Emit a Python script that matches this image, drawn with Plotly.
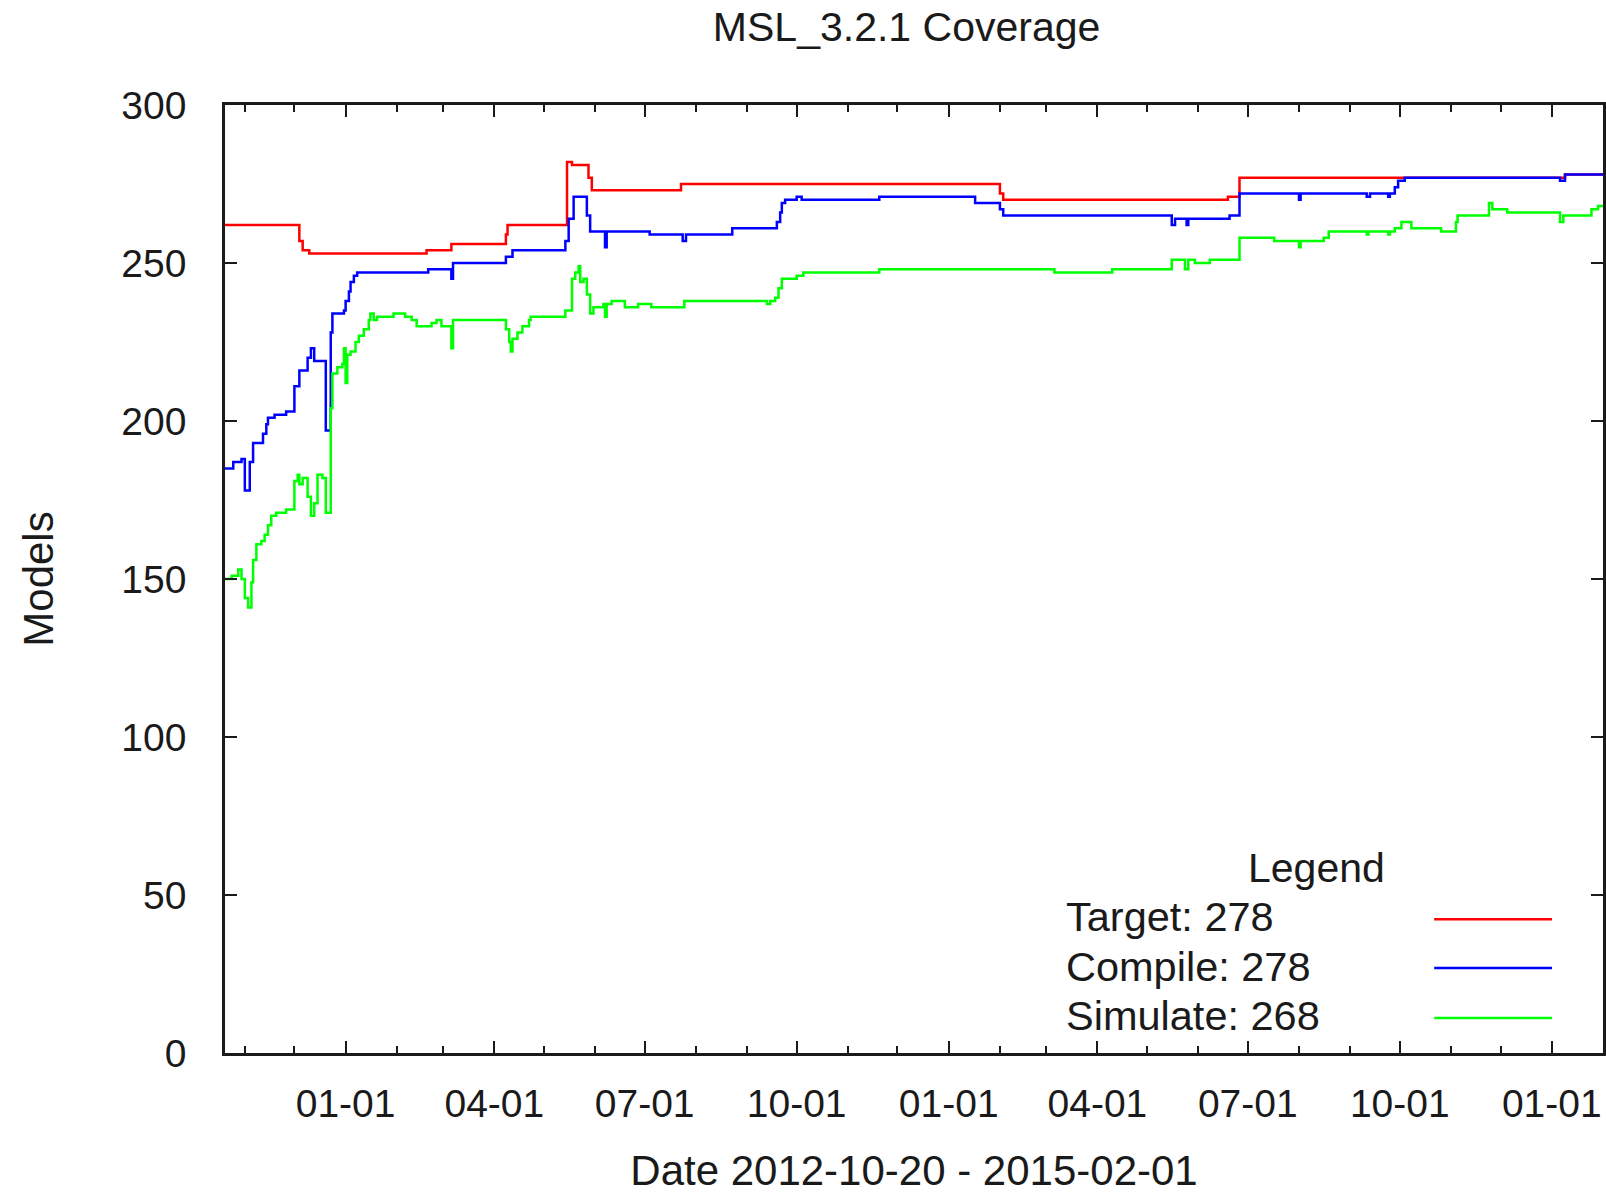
import plotly.graph_objects as go

# ---------------- data ----------------
target_dates = ["2012-10-20", "2012-12-04", "2012-12-06", "2012-12-10", "2013-02-19", "2013-03-06",
                "2013-04-08", "2013-04-09", "2013-05-15", "2013-05-18", "2013-05-28", "2013-05-30",
                "2013-07-23", "2014-02-01", "2014-02-03", "2014-06-19", "2014-06-26", "2015-01-09",
                "2015-02-01"]
target_vals = [262, 257, 254, 253, 254, 256,
               259, 262, 282, 281, 277, 273,
               275, 272, 270, 271, 277, 278,
               278]

compile_dates = ["2012-10-20", "2012-10-25", "2012-10-30", "2012-11-01", "2012-11-04", "2012-11-06",
                 "2012-11-12", "2012-11-14", "2012-11-15", "2012-11-19", "2012-11-26", "2012-12-01",
                 "2012-12-04", "2012-12-09", "2012-12-11", "2012-12-13", "2012-12-20", "2012-12-23",
                 "2012-12-24", "2012-12-31", "2013-01-01", "2013-01-03", "2013-01-04", "2013-01-06",
                 "2013-01-08", "2013-02-20", "2013-03-06", "2013-03-07", "2013-04-08", "2013-04-12",
                 "2013-05-14", "2013-05-16", "2013-05-19", "2013-05-27", "2013-05-29", "2013-06-07",
                 "2013-06-08", "2013-07-04", "2013-07-24", "2013-07-26", "2013-08-23", "2013-09-19",
                 "2013-09-21", "2013-09-22", "2013-09-24", "2013-10-01", "2013-10-04", "2013-11-20",
                 "2014-01-17", "2014-02-01", "2014-02-03", "2014-05-16", "2014-05-18", "2014-05-25",
                 "2014-05-26", "2014-06-20", "2014-06-26", "2014-08-01", "2014-08-02", "2014-09-11",
                 "2014-09-13", "2014-09-24", "2014-09-25", "2014-09-28", "2014-09-30", "2014-10-04",
                 "2015-01-06", "2015-01-09", "2015-02-01"]
compile_vals = [185, 187, 188, 178, 187, 193,
                196, 199, 201, 202, 203, 211,
                216, 220, 223, 219, 197, 228,
                234, 235, 238, 241, 244, 246,
                247, 248, 245, 250, 252, 254,
                257, 264, 271, 265, 260, 255,
                260, 259, 257, 259, 261, 263,
                266, 269, 270, 271, 270, 271,
                269, 267, 265, 262, 264, 262,
                264, 265, 272, 270, 272, 271,
                272, 271, 272, 274, 276, 277,
                276, 278, 278]

simulate_dates = ["2012-10-20", "2012-10-24", "2012-10-28", "2012-10-30", "2012-11-01", "2012-11-03",
                  "2012-11-05", "2012-11-06", "2012-11-08", "2012-11-11", "2012-11-13", "2012-11-15",
                  "2012-11-17", "2012-11-20", "2012-11-26", "2012-12-01", "2012-12-03", "2012-12-04",
                  "2012-12-06", "2012-12-09", "2012-12-11", "2012-12-13", "2012-12-15", "2012-12-18",
                  "2012-12-20", "2012-12-23", "2012-12-24", "2012-12-27", "2012-12-30", "2012-12-31",
                  "2013-01-01", "2013-01-02", "2013-01-04", "2013-01-07", "2013-01-09", "2013-01-12",
                  "2013-01-15", "2013-01-16", "2013-01-18", "2013-01-20", "2013-01-30", "2013-02-06",
                  "2013-02-10", "2013-02-13", "2013-02-22", "2013-02-25", "2013-02-28", "2013-03-06",
                  "2013-03-07", "2013-04-08", "2013-04-10", "2013-04-11", "2013-04-12", "2013-04-15",
                  "2013-04-18", "2013-04-22", "2013-04-23", "2013-05-14", "2013-05-18", "2013-05-20",
                  "2013-05-22", "2013-05-23", "2013-05-25", "2013-05-27", "2013-05-29", "2013-05-31",
                  "2013-06-06", "2013-06-07", "2013-06-08", "2013-06-11", "2013-06-19", "2013-06-27",
                  "2013-07-05", "2013-07-25", "2013-09-13", "2013-09-15", "2013-09-18", "2013-09-20",
                  "2013-09-22", "2013-10-01", "2013-10-05", "2013-11-20", "2014-03-06", "2014-04-10",
                  "2014-05-16", "2014-05-24", "2014-05-26", "2014-05-30", "2014-06-08", "2014-06-26",
                  "2014-07-17", "2014-08-01", "2014-08-02", "2014-08-16", "2014-08-19", "2014-09-11",
                  "2014-09-12", "2014-09-24", "2014-09-25", "2014-09-28", "2014-10-02", "2014-10-08",
                  "2014-10-26", "2014-11-04", "2014-11-05", "2014-11-24", "2014-11-26", "2014-12-05",
                  "2015-01-06", "2015-01-08", "2015-01-25", "2015-01-29", "2015-02-01"]
simulate_vals = [150, 151, 153, 150, 144, 141,
                 149, 156, 161, 162, 164, 167,
                 170, 171, 172, 181, 183, 180,
                 182, 176, 170, 174, 183, 182,
                 171, 204, 215, 217, 218, 223,
                 212, 221, 222, 225, 227, 229,
                 232, 234, 232, 233, 234, 233,
                 232, 230, 231, 232, 230, 223,
                 232, 229, 225, 222, 226, 228,
                 230, 232, 233, 235, 245, 247,
                 249, 244, 245, 240, 234, 236,
                 237, 233, 237, 238, 236, 237,
                 236, 238, 237, 238, 239, 242,
                 245, 246, 247, 248, 247, 248,
                 251, 248, 251, 250, 251, 258,
                 257, 255, 257, 258, 260, 259,
                 260, 259, 260, 261, 263, 261,
                 260, 263, 265, 269, 267, 266,
                 263, 265, 267, 268, 268]

series_names = ["Target", "Compile", "Simulate"]
series_colors = ["#ff0000", "#0000ff", "#00ff00"]

x_start, x_end = "2012-10-20", "2015-02-01"
y_ticks = [0, 50, 100, 150, 200, 250, 300]

chart_title = "MSL_3.2.1 Coverage"
x_title = f"Date {x_start} - {x_end}"
y_title = "Models"

FONT = "Liberation Sans, Arial, sans-serif"
INK = "#1a1a1a"

# ---------------- figure ----------------
fig = go.Figure()
all_series = [(target_dates, target_vals), (compile_dates, compile_vals), (simulate_dates, simulate_vals)]
for (dates, vals), name, col in zip(all_series, series_names, series_colors):
    fig.add_trace(go.Scatter(
        x=dates, y=vals, mode="lines", name=name,
        line=dict(color=col, width=2.5, shape="hv"),
        showlegend=False,
    ))

axis_common = dict(
    showline=True, linecolor=INK, linewidth=2.5, mirror="allticks",
    ticks="inside", ticklen=12, tickwidth=2, tickcolor=INK,
    showgrid=False, zeroline=False,
)

fig.update_xaxes(
    type="date", range=[x_start, x_end],
    tick0="2013-01-01", dtick="M3", tickformat="%m-%d",
    minor=dict(dtick="M1", tick0="2012-11-01", ticks="inside", ticklen=7,
               tickwidth=2, tickcolor=INK, showgrid=False),
    tickfont=dict(family=FONT, size=39, color=INK),
    ticklabelstandoff=14,
    title=dict(text=x_title, font=dict(family=FONT, size=42, color=INK), standoff=44),
    automargin=False,
    **axis_common,
)
fig.update_yaxes(
    range=[0, 300], tickvals=y_ticks,
    tickfont=dict(family=FONT, size=39, color=INK),
    ticklabelstandoff=28,
    title=dict(text=y_title, font=dict(family=FONT, size=42, color=INK), standoff=55),
    automargin=False,
    **axis_common,
)

# ---------------- gnuplot-style legend (text left, sample right) ----------------
legend_rows_y = [0.1444, 0.0917, 0.0400]
legend_line_y = [0.1412, 0.0896, 0.0369]
annotations = [dict(text="Legend", x=0.792, y=0.1949, xref="paper", yref="paper",
                    xanchor="center", yanchor="middle", showarrow=False,
                    font=dict(family=FONT, size=41, color=INK))]
shapes = []
for (dates, vals), name, col, ty, ly in zip(all_series, series_names, series_colors,
                                            legend_rows_y, legend_line_y):
    annotations.append(dict(text=f"{name}: {vals[-1]}", x=0.6085, y=ty, xref="paper", yref="paper",
                            xanchor="left", yanchor="middle", showarrow=False,
                            font=dict(family=FONT, size=41.5, color=INK)))
    shapes.append(dict(type="line", xref="paper", yref="paper", x0=0.8775, x1=0.963, y0=ly, y1=ly,
                       line=dict(color=col, width=2.5)))

fig.update_layout(
    width=1606, height=1194,
    margin=dict(l=225, r=3, t=105, b=141),
    paper_bgcolor="white", plot_bgcolor="white",
    title=dict(text=chart_title, x=0.5645, xref="container", xanchor="center",
               y=1 - 27 / 1194, yref="container", yanchor="middle",
               font=dict(family=FONT, size=41, color=INK)),
    annotations=annotations, shapes=shapes,
    showlegend=False,
)

fig.write_html("out.html")
